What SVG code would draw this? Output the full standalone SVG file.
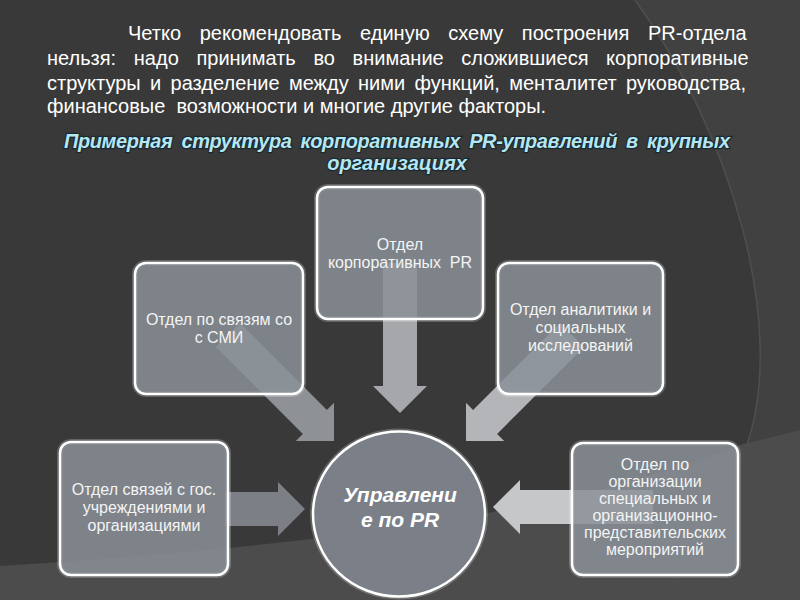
<svg xmlns="http://www.w3.org/2000/svg" width="800" height="600" viewBox="0 0 800 600">
  <defs>
    <style>
      .para { font-family: "Liberation Sans", Arial, sans-serif; font-size: 20px; fill: #ffffff; }
      .title { font-family: "Liberation Sans", Arial, sans-serif; font-size: 20px; font-weight: bold; font-style: italic; fill: #b4e6f4; stroke: #1c2a30; stroke-width: 2.5px; paint-order: stroke; text-anchor: middle; }
      .box { fill: #8a9098; fill-opacity: 0.85; stroke: #ffffff; stroke-width: 2.5px; }
      .glow { fill: none; stroke: #ffffff; stroke-opacity: 0.22; stroke-width: 6px; }
      .lbl { font-family: "Liberation Sans", Arial, sans-serif; font-size: 16px; fill: #f4f4f4; text-anchor: middle; }
      .hub { font-family: "Liberation Sans", Arial, sans-serif; font-size: 21px; font-weight: bold; font-style: italic; fill: #ffffff; text-anchor: middle; }
    </style>
  </defs>

  <!-- background -->
  <rect x="0" y="0" width="800" height="600" fill="#393939"/>
  <path d="M635,0 C730,130 790,330 745,450 C720,520 690,560 660,600 L800,600 L800,0 Z" fill="#414141"/>
  <path d="M0,566 C250,550 550,522 740,445 L800,430 L800,600 L0,600 Z" fill="#4c4c4c"/>
  <path d="M635,0 C730,130 790,330 745,450 C720,520 690,560 660,600" fill="none" stroke="#4f4f4f" stroke-width="1.5"/>

  <!-- paragraph -->
  <text class="para" x="128" y="40" word-spacing="13.1">Четко рекомендовать единую схему построения PR-отдела</text>
  <text class="para" x="47" y="65" word-spacing="12.1">нельзя: надо принимать во внимание сложившиеся корпоративные</text>
  <text class="para" x="47" y="90" word-spacing="3.8">структуры и разделение между ними функций, менталитет руководства,</text>
  <text class="para" x="47" y="113" xml:space="preserve">финансовые  возможности и многие другие факторы.</text>

  <!-- title -->
  <text class="title" x="397" y="148" word-spacing="4" textLength="666" lengthAdjust="spacing">Примерная структура корпоративных PR-управлений в крупных</text>
  <text class="title" x="397" y="170">организациях</text>

  <!-- connectors -->
  <g id="connectors">
    <path transform="translate(400,413) rotate(90)" d="M-150,-17 L-27,-17 L-27,-27 L0,0 L-27,27 L-27,17 L-150,17 Z" fill="#a5a7aa"/>
    <path transform="translate(334,441) rotate(45)" d="M-150,-17 L-27,-17 L-27,-27 L0,0 L-27,27 L-27,17 L-150,17 Z" fill="#8e9196"/>
    <path transform="translate(466,441) rotate(135)" d="M-150,-17 L-27,-17 L-27,-27 L0,0 L-27,27 L-27,17 L-150,17 Z" fill="#b3b5b8"/>
    <path transform="translate(305,509)" d="M-80,-17 L-27,-17 L-27,-27 L0,0 L-27,27 L-27,17 L-80,17 Z" fill="#7c8086"/>
    <path transform="translate(493,507) rotate(180)" d="M-160,-17 L-27,-17 L-27,-27 L0,0 L-27,27 L-27,17 L-160,17 Z" fill="#c6c7c9"/>
  </g>

  <!-- nodes -->
  <g id="node-corp">
    <rect class="glow" x="317" y="187" width="166" height="132" rx="11"/>
    <rect class="box" x="317" y="187" width="166" height="132" rx="11"/>
    <text class="lbl" x="400" y="250">Отдел</text>
    <text class="lbl" x="400" y="268" xml:space="preserve">корпоративных  PR</text>
  </g>

  <g id="node-smi">
    <rect class="glow" x="135" y="263" width="168" height="131" rx="11"/>
    <rect class="box" x="135" y="263" width="168" height="131" rx="11"/>
    <text class="lbl" x="219" y="325">Отдел по связям со</text>
    <text class="lbl" x="219" y="343">с СМИ</text>
  </g>

  <g id="node-analytics">
    <rect class="glow" x="498" y="263" width="165" height="131" rx="11"/>
    <rect class="box" x="498" y="263" width="165" height="131" rx="11"/>
    <text class="lbl" x="580.5" y="315">Отдел аналитики и</text>
    <text class="lbl" x="580.5" y="333">социальных</text>
    <text class="lbl" x="580.5" y="351">исследований</text>
  </g>

  <g id="node-gov">
    <rect class="glow" x="60" y="442" width="168" height="133" rx="11"/>
    <rect class="box" x="60" y="442" width="168" height="133" rx="11"/>
    <text class="lbl" x="144" y="495">Отдел связей с гос.</text>
    <text class="lbl" x="144" y="513">учреждениями и</text>
    <text class="lbl" x="144" y="531">организациями</text>
  </g>

  <g id="node-events">
    <rect class="glow" x="572" y="443" width="166" height="132" rx="11"/>
    <rect class="box" x="572" y="443" width="166" height="132" rx="11"/>
    <text class="lbl" x="655" y="470">Отдел по</text>
    <text class="lbl" x="655" y="487">организации</text>
    <text class="lbl" x="655" y="504">специальных и</text>
    <text class="lbl" x="655" y="521">организационно-</text>
    <text class="lbl" x="655" y="538">представительских</text>
    <text class="lbl" x="655" y="555">мероприятий</text>
  </g>

  <g id="node-hub">
    <ellipse cx="399" cy="514" rx="86" ry="82.5" fill="none" stroke="#ffffff" stroke-opacity="0.22" stroke-width="6"/>
    <ellipse cx="399" cy="514" rx="86" ry="82.5" fill="#7b8088" stroke="#ffffff" stroke-width="2.5"/>
    <text class="hub" x="400" y="502">Управлени</text>
    <text class="hub" x="400" y="527">е по PR</text>
  </g>
</svg>
